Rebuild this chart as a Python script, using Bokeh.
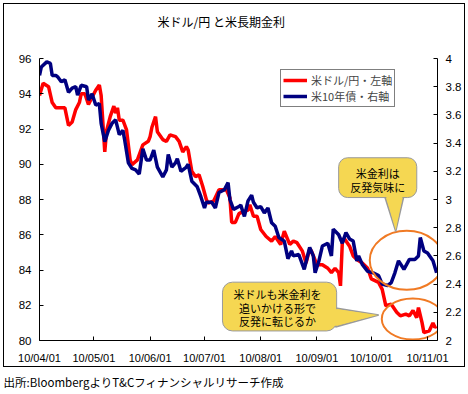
import pandas as pd
from bokeh.plotting import figure
from bokeh.layouts import column
from bokeh.models import (Range1d, LinearAxis, FixedTicker, Label, Legend, LegendItem,
                          DatetimeTickFormatter, NumeralTickFormatter)
from bokeh.embed import file_html
from bokeh.resources import INLINE

# ---------------- data ----------------
start_date = "2010-04-01"
red_day = [0, 2, 5, 7, 9, 14, 16, 18, 20, 22, 23, 25, 27, 29, 31, 33, 34, 36, 37, 39,
           41, 42, 43, 44, 46, 48, 50, 51, 54, 57, 60, 61, 62, 64, 65, 68, 70, 72, 75, 77,
           79, 81, 82, 84, 86, 88, 90, 92, 93, 96, 99, 103, 105, 106, 108, 110, 112, 115, 116, 118,
           120, 122, 125, 128, 130, 133, 135, 138, 140, 142, 145, 147, 149, 150, 153, 156, 159, 161, 163, 165,
           166, 167, 168, 171, 173, 175, 178, 181, 183, 185, 187, 189, 191, 194, 197, 199, 202, 204, 206, 208,
           209, 211, 212, 215, 217, 218, 219]
red_val = [93.9, 94.6, 94.4, 93.5, 93.2, 93.2, 92.2, 92.4, 93.1, 93.5, 94.0, 94.0, 93.4, 93.8, 94.2, 94.5, 93.9, 90.7, 91.9, 92.7,
           93.3, 92.9, 93.2, 92.5, 92.5, 91.95, 90.25, 89.97, 90.25, 91.1, 91.3, 91.57, 92.1, 92.7, 91.85, 91.4, 91.3, 91.67, 91.57, 91.3,
           90.7, 91.0, 90.8, 89.6, 89.3, 89.4, 88.75, 88.0, 87.8, 87.9, 88.56, 88.56, 88.1, 86.7, 86.7, 87.2, 87.3, 87.4, 87.7, 87.05,
           87.05, 86.3, 85.9, 85.64, 85.9, 85.45, 86.2, 85.45, 85.64, 85.55, 85.07, 84.4, 85.2, 85.07, 84.3, 84.3, 84.1, 83.85, 84.1, 83.85,
           83.1, 85.55, 85.8, 85.35, 84.8, 84.6, 84.4, 84.1, 83.5, 83.4, 83.3, 82.9, 81.97, 82.06, 81.6, 81.4, 81.5, 81.4, 81.7, 81.3,
           81.87, 81.0, 80.45, 80.55, 81.0, 80.75, 80.8]
blue_day = [0, 1, 4, 6, 7, 9, 10, 12, 14, 16, 18, 20, 21, 23, 26, 27, 29, 31, 33, 34,
            36, 38, 40, 42, 44, 46, 47, 49, 51, 53, 55, 57, 59, 61, 63, 65, 68, 70, 71, 73,
            75, 76, 78, 81, 82, 84, 87, 89, 91, 92, 95, 97, 99, 102, 104, 105, 107, 110, 111, 113,
            115, 117, 118, 120, 122, 124, 126, 128, 130, 132, 135, 137, 139, 140, 143, 146, 149, 151, 152, 154,
            156, 159, 161, 162, 165, 167, 169, 171, 173, 175, 176, 178, 181, 184, 187, 189, 192, 194, 196, 198,
            201, 204, 207, 209, 210, 212, 214, 217, 219]
blue_val = [3.88, 3.94, 3.976, 3.965, 3.88, 3.88, 3.87, 3.835, 3.85, 3.76, 3.79, 3.8, 3.74, 3.81, 3.8, 3.705, 3.75, 3.67, 3.68, 3.54,
            3.41, 3.49, 3.54, 3.565, 3.46, 3.49, 3.42, 3.26, 3.22, 3.21, 3.18, 3.36, 3.28, 3.28, 3.35, 3.23, 3.16, 3.21, 3.32, 3.23,
            3.26, 3.29, 3.2, 3.23, 3.25, 3.13, 3.09, 3.02, 2.94, 2.98, 2.98, 2.94, 3.05, 3.07, 3.12, 3.0, 2.93, 2.95, 2.96, 2.88,
            2.99, 3.03, 2.98, 2.94, 2.95, 2.905, 2.94, 2.835, 2.81, 2.73, 2.705, 2.58, 2.635, 2.6, 2.61, 2.505, 2.66, 2.6, 2.48, 2.56,
            2.67, 2.69, 2.6, 2.79, 2.75, 2.69, 2.765, 2.72, 2.705, 2.565, 2.6, 2.54, 2.49, 2.48, 2.46, 2.40, 2.39, 2.41, 2.48, 2.565,
            2.505, 2.575, 2.575, 2.6, 2.73, 2.635, 2.62, 2.565, 2.48]
x_tick_dates = ["2010-04-01", "2010-05-01", "2010-06-01", "2010-07-01",
                "2010-08-01", "2010-09-01", "2010-10-01", "2010-11-01"]
left_ticks = [80, 82, 84, 86, 88, 90, 92, 94, 96]
right_ticks = [2.0, 2.2, 2.4, 2.6, 2.8, 3.0, 3.2, 3.4, 3.6, 3.8, 4.0]

title_text = "米ドル/円 と米長期金利"
red_name = "米ドル/円・左軸"
blue_name = "米10年債・右軸"
note1 = ["米金利は", "反発気味に"]
note2 = ["米ドルも米金利を", "追いかける形で", "反発に転じるか"]
source_text = "出所:BloombergよりT&Cフィナンシャルリサーチ作成"

# ---------------- geometry (page px) ----------------
FONT = "Noto Sans CJK JP"
NUM_FONT = "Liberation Sans"
BOX_L, BOX_T = 3, 3          # outer border top-left on page
IN_W, IN_H = 460, 362        # inner size of bordered chart
HEAD_H = 30                  # title strip height inside border
ORG_X = BOX_L + 1            # canvas origin on page (inside 1px border)
ORG_Y = BOX_T + 1 + HEAD_H
FL, FR, FT, FB = 39.3, 436.7, 58.3, 341.6   # plot frame on page
BL = int(round(FL - ORG_X))
BR = int(round(ORG_X + IN_W - FR))
DAY_END = 219.5
t0 = pd.Timestamp(start_date)
MS_DAY = 86400000.0
t0_ms = t0.value / 1e6


def X(px):
    return t0_ms + (px - FL) / (FR - FL) * DAY_END * MS_DAY


def Y(py):
    return 80 + (FB - py) / (FB - FT) * 16


red_x = [t0 + pd.Timedelta(days=d) for d in red_day]
blue_x = [t0 + pd.Timedelta(days=d) for d in blue_day]


def strip(height, top_border, text, size, offset):
    f = figure(width=IN_W if offset > 0 else 468, height=height, output_backend="svg",
               toolbar_location=None, x_range=Range1d(0, 1), y_range=Range1d(0, 1),
               min_border_left=BL, min_border_right=BR, min_border_top=top_border,
               min_border_bottom=0, x_axis_location=None, y_axis_location=None,
               background_fill_color="white", border_fill_color="white")
    f.outline_line_color = None
    f.grid.visible = False
    f.title.text = text
    f.title.text_font = FONT
    f.title.text_font_size = size
    f.title.text_font_style = "normal"
    f.title.text_color = "black"
    f.title.align = "left"
    f.title.offset = offset
    f.title.standoff = 0
    return f


head = strip(HEAD_H, 25, title_text, "12px", 118)

PH = IN_H - HEAD_H
p = figure(width=IN_W, height=PH, output_backend="svg", toolbar_location=None,
           x_axis_type="datetime",
           x_range=Range1d(t0_ms, t0_ms + DAY_END * MS_DAY),
           y_range=Range1d(80, 96),
           min_border_left=BL, min_border_right=BR,
           min_border_top=int(round(FT - ORG_Y)), min_border_bottom=int(round(ORG_Y + PH - FB)),
           background_fill_color="white", border_fill_color="white")
p.outline_line_color = None
p.grid.visible = False
p.extra_y_ranges = {"right": Range1d(2, 4)}


def style_axis(ax):
    ax.axis_line_color = "black"
    ax.axis_line_width = 1
    ax.major_tick_in = 4
    ax.major_tick_out = 0
    ax.minor_tick_line_color = None
    ax.major_tick_line_color = "black"
    ax.major_label_text_font = NUM_FONT
    ax.major_label_text_font_size = "11.5px"
    ax.major_label_text_color = "black"


p.yaxis.ticker = FixedTicker(ticks=left_ticks)
p.yaxis.major_label_standoff = 8
style_axis(p.yaxis[0])

p.xaxis.ticker = FixedTicker(ticks=[pd.Timestamp(d).value / 1e6 for d in x_tick_dates])
p.xaxis.formatter = DatetimeTickFormatter(days="%y/%m/%d", months="%y/%m/%d", years="%y/%m/%d")
style_axis(p.xaxis[0])
p.xaxis.major_label_text_font_size = "11px"
p.xaxis.major_label_standoff = 11

ry = LinearAxis(y_range_name="right", ticker=FixedTicker(ticks=right_ticks),
                formatter=NumeralTickFormatter(format="0.[0]"))
ry.major_label_standoff = 8
style_axis(ry)
p.add_layout(ry, "right")

# series
r_red = p.line(red_x, red_val, line_color="#FF0000", line_width=3.5)
r_blue = p.line(blue_x, blue_val, line_color="#000080", line_width=3.5, y_range_name="right")

legend = Legend(items=[LegendItem(label=red_name, renderers=[r_red]),
                       LegendItem(label=blue_name, renderers=[r_blue])],
                location=(int(round(280.7 - FL)), 233),
                padding=2, spacing=0, margin=0, label_height=14, glyph_height=14,
                glyph_width=24, label_standoff=4,
                border_line_color="black", border_line_width=1,
                label_text_font=FONT, label_text_font_size="11px")
p.add_layout(legend)

# orange ellipses
ORANGE = "#F07A24"
p.ellipse(x=[X(406)], y=[Y(261)], width=74, height=59, width_units="screen",
          height_units="screen", fill_alpha=0, line_color=ORANGE, line_width=2)
p.ellipse(x=[X(412)], y=[Y(320)], width=62, height=41, width_units="screen",
          height_units="screen", fill_alpha=0, line_color=ORANGE, line_width=2)

YEL = "#F5D752"
GRAY = "#9A9A9A"
# callout 1
p.patch([X(384), X(403), X(395)], [Y(197), Y(197), Y(232)], fill_color=YEL,
        line_color=GRAY, line_width=1.5)
p.quad(left=[X(338)], right=[X(416)], top=[Y(158)], bottom=[Y(198)],
       fill_color=YEL, line_color=GRAY, line_width=1, border_radius=9)
p.patch([X(384.8), X(402.2), X(395)], [Y(195), Y(195), Y(231)], fill_color=YEL,
        line_color=None)
# callout 2
p.patch([X(335), X(335), X(378)], [Y(309), Y(328), Y(316)], fill_color=YEL,
        line_color=GRAY, line_width=1.5)
p.quad(left=[X(222)], right=[X(336)], top=[Y(283)], bottom=[Y(332)],
       fill_color=YEL, line_color=GRAY, line_width=1, border_radius=10)
p.patch([X(333), X(333), X(377)], [Y(309.8), Y(327.2), Y(316)], fill_color=YEL,
        line_color=None)


def add_text(txt, px, py, size="11px", align="center"):
    p.add_layout(Label(x=X(px), y=Y(py), text=txt, text_font=FONT, text_font_size=size,
                       text_align=align, text_baseline="middle", text_color="black"))


for i, t in enumerate(note1):
    add_text(t, 377, 173 + 14 * i)
for i, t in enumerate(note2):
    add_text(t, 277, 295 + 13.5 * i)

chart = column(head, p, spacing=0, margin=(BOX_T, 0, 0, BOX_L),
               styles={"border": "1px solid black"})

# source caption below the bordered chart
CAP_TOP = BOX_T + IN_H + 2
cap = strip(394 - CAP_TOP, 22, source_text, "11.5px", 3 - BL)

layout = column(chart, cap, spacing=0)
open("out.html", "w").write(file_html(layout, INLINE))
